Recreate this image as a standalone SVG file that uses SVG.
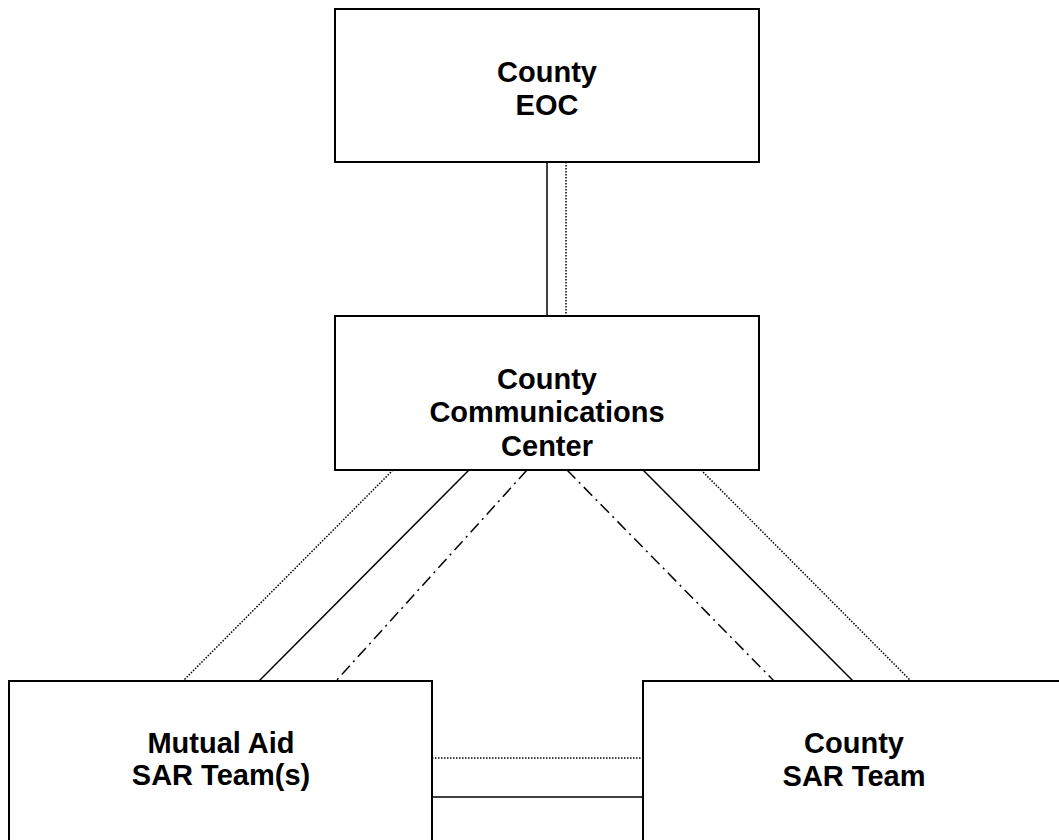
<svg xmlns="http://www.w3.org/2000/svg" width="1059" height="840" viewBox="0 0 1059 840">
<style>
.box{fill:#fff;stroke:#000;stroke-width:2}
.t{font-family:"Liberation Sans",Arial,sans-serif;font-weight:bold;font-size:29px;fill:#000;text-anchor:middle}
.solid{stroke:#000;stroke-width:1.5;fill:none}
.dot{stroke:#000;stroke-width:1.5;fill:none;stroke-dasharray:1.5 1.5}
.dd{stroke:#000;stroke-width:1.5;fill:none;stroke-dasharray:12 5 2 5}
</style>
<rect width="1059" height="840" fill="#fff"/>
<g id="connectors">
<line class="solid" x1="547" y1="162" x2="547" y2="316"/>
<line class="dot" x1="566" y1="162" x2="566" y2="316"/>
<line class="dot" x1="393" y1="470" x2="183" y2="681"/>
<line class="solid" x1="469" y1="470" x2="259" y2="681"/>
<line class="dd" x1="527" y1="470" x2="336" y2="681"/>
<line class="dd" x1="567" y1="470" x2="774" y2="681"/>
<line class="solid" x1="643" y1="470" x2="853" y2="681"/>
<line class="dot" x1="701" y1="470" x2="911" y2="681"/>
<line class="dot" x1="432" y1="758" x2="643" y2="758"/>
<line class="solid" x1="432" y1="797" x2="643" y2="797"/>
</g>
<g id="eoc">
<rect class="box" x="335" y="9" width="424" height="153"/>
<text class="t" x="547" y="82">County</text>
<text class="t" x="547" y="115">EOC</text>
</g>
<g id="comm">
<rect class="box" x="335" y="316" width="424" height="154"/>
<text class="t" x="547" y="389">County</text>
<text class="t" x="547" y="422">Communications</text>
<text class="t" x="547" y="456">Center</text>
</g>
<g id="mutual">
<rect class="box" x="9" y="681" width="423" height="170"/>
<text class="t" x="221" y="753">Mutual Aid</text>
<text class="t" x="221" y="785">SAR Team(s)</text>
</g>
<g id="countysar">
<rect class="box" x="643" y="681" width="430" height="170"/>
<text class="t" x="854" y="753">County</text>
<text class="t" x="854" y="786">SAR Team</text>
</g>
</svg>
